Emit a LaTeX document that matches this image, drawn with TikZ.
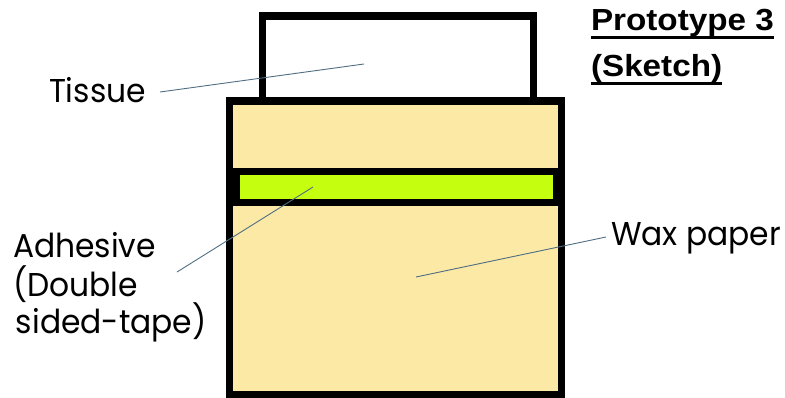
\documentclass[tikz,border=0pt]{standalone}
\usepackage{fontspec}
\setmainfont{Poppins}
\newfontfamily\titlefont[FakeStretch=1.09]{Liberation Sans}
\newfontfamily\labfont[FakeStretch=0.95]{Poppins}
\definecolor{waxbeige}{RGB}{252,233,166}
\definecolor{tapegreen}{RGB}{197,255,15}
\definecolor{leadercol}{RGB}{80,110,130}
\begin{document}
\begin{tikzpicture}[x=1pt,y=-1pt,
  part/.style={draw=black,line width=7.5pt,line join=miter},
  lab/.style={inner sep=0pt,outer sep=0pt,anchor=base west,font=\labfont\fontsize{33}{39}\selectfont},
  ttl/.style={inner sep=0pt,outer sep=0pt,anchor=base west,font=\titlefont\bfseries\fontsize{30.5}{46}\selectfont},
  uline/.style={line width=2.5pt},
  leader/.style={draw=leadercol,line width=0.9pt}]
\useasboundingbox (0,0) rectangle (785,397);
% tissue
\draw[part,fill=white] (262.5,16) rectangle (533.5,101);
% wax paper body
\draw[part,fill=waxbeige] (229.5,101) rectangle (561.5,394.5);
% adhesive strip
\draw[part,line width=7pt,fill=tapegreen] (236,171.5) rectangle (556,202.5);
% labels
\node[lab] (tissue) at (49,102.3) {Tissue};
\node[lab] (adh1) at (13,257.3) {Adhesive};
\node[lab] (adh2) at (13,296.7) {(Double};
\node[lab] (adh3) at (16,333) {sided-tape)};
\node[lab] (wax) at (611,245.7) {Wax paper};
\node[ttl] (title1) at (591,30.7) {Prototype 3};
\node[ttl] (title2) at (591,76.7) {(Sketch)};
\draw[uline] ([yshift=-7pt]title1.base west) -- ([yshift=-7pt]title1.base east);
\draw[uline] ([yshift=-7pt]title2.base west) -- ([yshift=-7pt]title2.base east);
% leader lines
\coordinate (tissueA) at (160,92);
\coordinate (tissueB) at (364,64);
\coordinate (adhA) at (177,272);
\coordinate (adhB) at (313,187);
\coordinate (waxA) at (606,237);
\coordinate (waxB) at (416,277);
\draw[leader] (tissueA) -- (tissueB);
\draw[leader] (adhA) -- (adhB);
\draw[leader] (waxA) -- (waxB);
\end{tikzpicture}
\end{document}
